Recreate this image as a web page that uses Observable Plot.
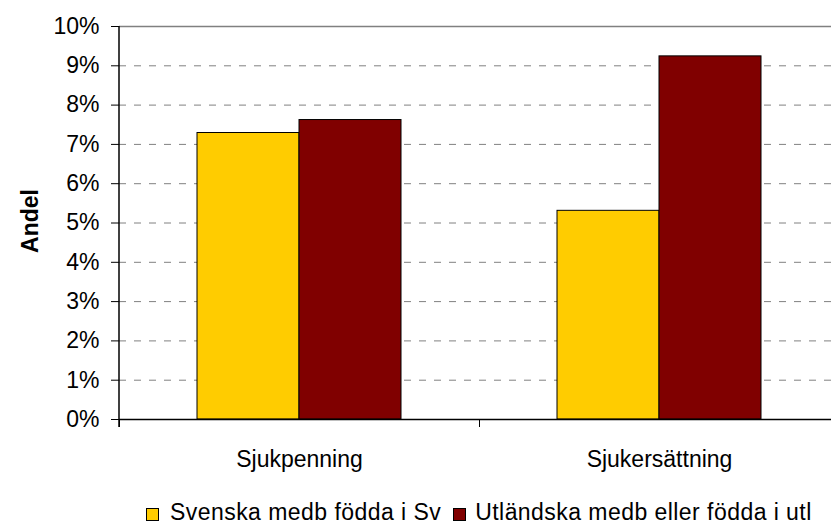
<!DOCTYPE html>
<html>
<head>
<meta charset="utf-8">
<script src="https://cdn.jsdelivr.net/npm/d3@7"></script>
<script src="https://cdn.jsdelivr.net/npm/@observablehq/plot@0.6"></script>
<style>
  html, body { margin: 0; padding: 0; background: #fff; overflow: hidden; width: 831px; height: 525px; }
  #wrap { position: relative; width: 831px; height: 525px; overflow: hidden; font-family: "Liberation Sans", Arial, sans-serif; }
  #chart svg { max-width: none !important; }
  #ylabel { position: absolute; left: 30px; top: 221px; transform: translate(-50%, -50%) rotate(-90deg); font-weight: bold; font-size: 23px; white-space: nowrap; color: #000; }
  #legend { position: absolute; left: 146px; top: 501px; display: flex; align-items: center; font-size: 23px; line-height: 23px; letter-spacing: 0.45px; white-space: nowrap; color: #000; }
  .sw { width: 13px; height: 13px; border: 1px solid #000; box-sizing: border-box; display: inline-block; margin-top: 4px; }
</style>
</head>
<body>
<div id="wrap">
  <div id="chart"></div>
  <div id="ylabel">Andel</div>
  <div id="legend"></div>
</div>
<script>
const categories = ["Sjukpenning", "Sjukersättning"];
const series = ["Svenska medb födda i Sv", "Utländska medb eller födda i utl"];
const svenska = [7.29, 5.31];
const utlandska = [7.62, 9.24];
const yTicks = [0, 1, 2, 3, 4, 5, 6, 7, 8, 9, 10];
const colors = ["#FFCC00", "#800000"];

const data = categories.flatMap((c, i) => [
  {category: c, series: series[0], value: svenska[i]},
  {category: c, series: series[1], value: utlandska[i]}
]);

const W = 839, marginLeft = 119, marginRight = 0;
const step = (W - marginLeft - marginRight) / categories.length;

const chart = Plot.plot({
  width: W,
  height: 480,
  marginLeft, marginRight,
  marginTop: 26,
  marginBottom: 61,
  style: {fontFamily: "'Liberation Sans', Arial, sans-serif", fontSize: "23px", color: "#000", background: "#fff", overflow: "visible", maxWidth: "none"},
  fx: {domain: categories, padding: 0, axis: null, label: null},
  x: {domain: series, paddingInner: 0, paddingOuter: 0.75, axis: null, label: null},
  y: {domain: [0, 10], axis: null, label: null},
  color: {domain: series, range: colors},
  marks: [
    Plot.ruleY(yTicks.filter(d => d > 0 && d < 10), {stroke: "#808080", strokeDasharray: "7,8", strokeWidth: 1}),
    Plot.ruleY([10], {stroke: "#808080", strokeWidth: 1.5}),
    Plot.barY(data, {fx: "category", x: "series", y: "value", fill: "series", stroke: "#000", strokeWidth: 1}),
    Plot.ruleY([0], {stroke: "#000", strokeWidth: 1.5}),
    Plot.axisY({ticks: yTicks, tickSize: 8, tickPadding: 12, tickFormat: d => d + "%", label: null, stroke: "#000", color: "#000"}),
    Plot.axisFx({anchor: "bottom", tickSize: 0, tickPadding: 31, label: null, color: "#000"}),
    Plot.axisFx({anchor: "bottom", tickSize: 8, tickFormat: () => "", label: null, dx: -step / 2, stroke: "#000"})
  ]
});
chart.style.maxWidth = "none";
document.getElementById("chart").appendChild(chart);

// left axis line, positioned with the plot's own y scale
const ys = chart.scale("y");
d3.select(chart).append("line")
  .attr("x1", marginLeft).attr("x2", marginLeft)
  .attr("y1", ys.apply(10)).attr("y2", ys.apply(0) + 8)
  .attr("stroke", "#000").attr("stroke-width", 1.5);

const legend = document.getElementById("legend");
series.forEach((s, i) => {
  const sw = document.createElement("span");
  sw.className = "sw";
  sw.style.background = colors[i];
  sw.style.marginRight = i === 0 ? "11px" : "9px";
  const t = document.createElement("span");
  t.textContent = s;
  t.style.marginRight = i === 0 ? "12px" : "0";
  legend.appendChild(sw);
  legend.appendChild(t);
});
</script>
</body>
</html>
